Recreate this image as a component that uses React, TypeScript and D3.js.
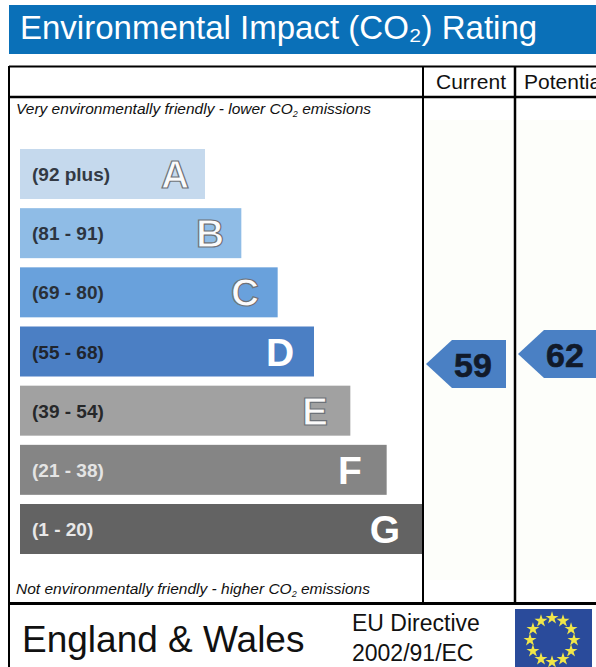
import React from 'react';
import * as d3 from 'd3';

const bands = ['A', 'B', 'C', 'D', 'E', 'F', 'G'];
const ranges = ['(92 plus)', '(81 - 91)', '(69 - 80)', '(55 - 68)', '(39 - 54)', '(21 - 38)', '(1 - 20)'];
const bandColors = ['#c5d9ed', '#8fbce6', '#69a1dc', '#4b7fc4', '#a1a1a1', '#858585', '#636464'];
const labelColors = ['#333a44', '#2c3440', '#2a3038', '#20252e', '#26282a', '#e4e4e4', '#e8e8e8'];
const currentRating = 59;
const potentialRating = 62;
const headers = ['Current', 'Potential'];

const sans = '"Liberation Sans", Arial, sans-serif';

const App = () => {
  const y = d3.scaleBand<string>().domain(bands).range([149, 554]).paddingInner(0.155);
  const barEnd = d3.scaleLinear().domain([0, 6]).range([205, 423]);
  const letterX = d3.scaleLinear().domain([0, 6]).range([175, 385]);
  // band D runs 55-68, the arrows sit on this scale
  const ratingY = d3.scaleLinear().domain([55, 68]).range([377.3, 334]);

  const arrow = d3.line<[number, number]>();
  const arrowPath = (rating: number, tip: number, right: number) => {
    const cy = ratingY(rating);
    return arrow([
      [tip, cy],
      [tip + 26, cy - 24],
      [right, cy - 24],
      [right, cy + 24],
      [tip + 26, cy + 24],
    ]) + 'Z';
  };

  const star = d3.symbol().type(d3.symbolStar).size(52)();
  const starAngle = d3.scaleLinear().domain([0, 12]).range([0, 2 * Math.PI]);

  return (
    <svg width={596} height={667} style={{ position: 'absolute', left: 0, top: 0 }} fontFamily={sans}>
      <defs>
        <filter id="soft" x="-5%" y="-5%" width="110%" height="110%">
          <feGaussianBlur stdDeviation="0.6" />
        </filter>
      </defs>
      <rect width={596} height={667} fill="#fff" />

      <rect x={9} y={5} width={587} height={49} fill="#0a70b8" />
      <text x={20} y={39} fontSize={33} fill="#fff">
        Environmental Impact (CO₂) Rating
      </text>

      <rect x={425} y={120} width={88} height={460} fill="#fdfefa" />
      <rect x={517} y={120} width={79} height={460} fill="#fdfefa" />

      <g filter="url(#soft)">
        {bands.map((b, i) => (
          <rect key={b} x={20} y={y(b)} width={barEnd(i) - 20} height={y.bandwidth()} fill={bandColors[i]} />
        ))}
      </g>
      {bands.map((b, i) => (
        <g key={b}>
          <text
            x={32}
            y={y(b)! + y.bandwidth() / 2 + 7}
            fontSize={19}
            fontWeight="bold"
            fontFamily='"Liberation Sans Narrow", "Liberation Sans", sans-serif'
            fill={labelColors[i]}
          >
            {ranges[i]}
          </text>
          <text
            x={letterX(i)}
            y={y(b)! + y.bandwidth() / 2 + 14}
            fontSize={39}
            fontWeight="bold"
            textAnchor="middle"
            fill={i === 3 || i > 4 ? '#fff' : '#fbfbfb'}
            stroke={i < 5 && i !== 3 ? '#6d7278' : 'none'}
            strokeWidth={1.2}
          >
            {b}
          </text>
        </g>
      ))}

      <text x={16} y={114} fontSize={15.5} fontStyle="italic" fill="#111">
        Very environmentally friendly - lower CO
        <tspan fontSize={9} dy={3}>2</tspan>
        <tspan dy={-3}> emissions</tspan>
      </text>
      <text x={16} y={594} fontSize={15.5} fontStyle="italic" fill="#111">
        Not environmentally friendly - higher CO
        <tspan fontSize={9} dy={3}>2</tspan>
        <tspan dy={-3}> emissions</tspan>
      </text>

      <text x={471} y={89} fontSize={21} textAnchor="middle" fill="#111">{headers[0]}</text>
      <text x={524} y={89} fontSize={21} fill="#111">{headers[1]}</text>

      <path d={arrowPath(currentRating, 426, 506)} fill="#4a80c4" />
      <path d={arrowPath(potentialRating, 518, 596)} fill="#4a80c4" />
      <text x={473} y={ratingY(currentRating) + 13} fontSize={34} fontWeight="bold" textAnchor="middle" fill="#111a2a" stroke="#111a2a" strokeWidth={0.6}>
        {currentRating}
      </text>
      <text x={565} y={ratingY(potentialRating) + 13} fontSize={34} fontWeight="bold" textAnchor="middle" fill="#111a2a" stroke="#111a2a" strokeWidth={0.6}>
        {potentialRating}
      </text>

      <g stroke="#000" fill="none">
        <line x1={9} x2={596} y1={66.5} y2={66.5} strokeWidth={2} />
        <line x1={9} x2={596} y1={97} y2={97} strokeWidth={2.5} />
        <line x1={9} x2={596} y1={603.5} y2={603.5} strokeWidth={3} />
        <line x1={9} x2={9} y1={66} y2={667} strokeWidth={2} />
        <line x1={423} x2={423} y1={66} y2={603} strokeWidth={2} />
        <line x1={515} x2={515} y1={66} y2={603} strokeWidth={2.5} />
      </g>

      <text x={22} y={652} fontSize={37} fill="#111">England &amp; Wales</text>
      <text x={352} y={631} fontSize={23} fill="#111">EU Directive</text>
      <text x={352} y={661} fontSize={23} fill="#111">2002/91/EC</text>

      <rect x={515} y={609} width={77} height={58} fill="#2a4b9b" />
      <g filter="url(#soft)">
        {d3.range(12).map((i) => (
          <path
            key={i}
            d={star!}
            fill="#f0e64a"
            transform={`translate(${552 + 22 * Math.sin(starAngle(i))},${640 - 22 * Math.cos(starAngle(i))})`}
          />
        ))}
      </g>
    </svg>
  );
};

export default App;
